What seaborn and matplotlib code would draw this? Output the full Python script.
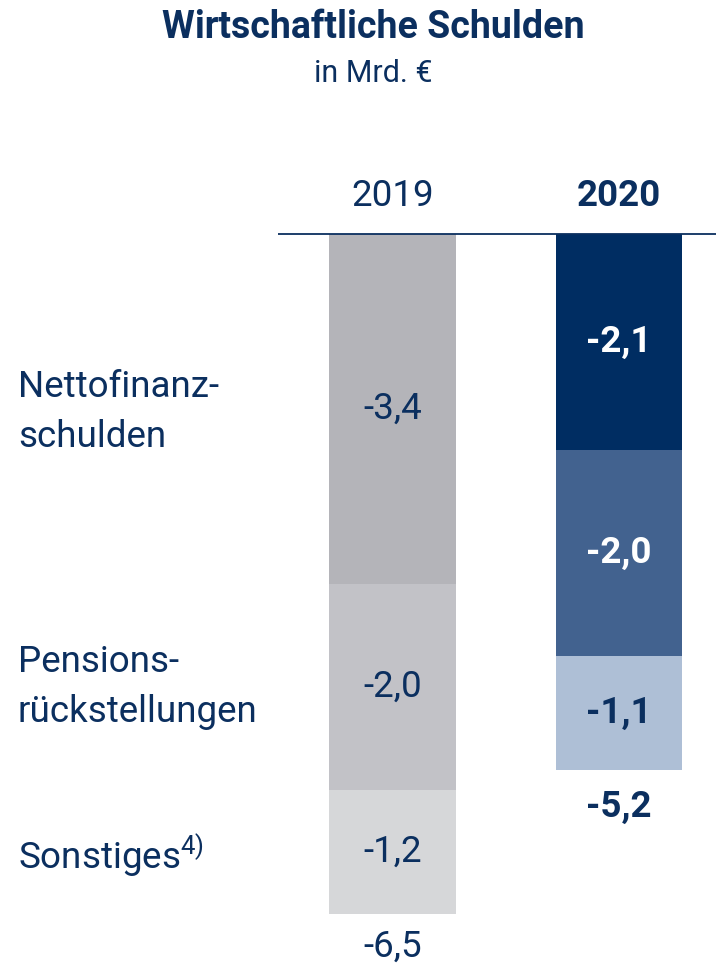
import matplotlib
matplotlib.use("Agg")
import matplotlib.pyplot as plt
import seaborn as sns
import numpy as np
import pandas as pd

years = ["2019", "2020"]
categories = ["Nettofinanz-\nschulden", "Pensions-\nrückstellungen", "Sonstiges$^{4)}$"]
values_2019 = [-3.4, -2.0, -1.2]
values_2020 = [-2.1, -2.0, -1.1]
totals = [-6.5, -5.2]
colors_2019 = ["#b4b4b9", "#c2c2c7", "#d6d7d9"]
colors_2020 = ["#002d62", "#42628f", "#aebfd6"]

NAVY = "#0b2f5f"
FS = 26.5
LW = "normal"

sns.set_theme(style="white")
plt.rcParams["font.family"] = ["Roboto", "DejaVu Sans"]
plt.rcParams["mathtext.fontset"] = "custom"
plt.rcParams["mathtext.rm"] = "Roboto"

fig = plt.figure(figsize=(7.16, 9.65), dpi=100)
ax = fig.add_axes([0, 0, 1, 1])

W, H = 716, 965
x0px, unit_x = 392.5, 226.5
y0px, unit_y = 234, 103
ax.set_xlim(-x0px / unit_x, (W - x0px) / unit_x)
ax.set_ylim(-(H - y0px) / unit_y, y0px / unit_y)

cum19 = np.cumsum(values_2019)
cum20 = np.cumsum(values_2020)
# draw from the deepest cumulative layer up so that segments stack
for i in reversed(range(3)):
    df = pd.DataFrame({"year": years, "val": [cum19[i], cum20[i]]})
    sns.barplot(data=df, x="year", y="val", hue="year",
                palette=[colors_2019[i], colors_2020[i]], width=0.56,
                legend=False, ax=ax, saturation=1, linewidth=0, zorder=2)
ax.set_xlim(-x0px / unit_x, (W - x0px) / unit_x)
ax.set_ylim(-(H - y0px) / unit_y, y0px / unit_y)
ax.axis("off")

# segment labels
fmt = lambda v: f"{v:.1f}".replace(".", ",")
start = 0
for i, v in enumerate(values_2019):
    ax.text(0, start + v / 2, fmt(v), ha="center", va="center",
            fontsize=FS, color=NAVY, zorder=5, fontweight=LW)
    start += v
start = 0
for i, v in enumerate(values_2020):
    c = "white" if i < 2 else NAVY
    ax.text(1, start + v / 2, fmt(v), ha="center", va="center",
            fontsize=FS, color=c, fontweight="bold", zorder=5)
    start += v

# totals
ax.text(0, cum19[-1] - 0.32, fmt(totals[0]), ha="center", va="center",
        fontsize=FS, color=NAVY, fontweight=LW)
ax.text(1, cum20[-1] - 0.36, fmt(totals[1]), ha="center", va="center",
        fontsize=FS, color=NAVY, fontweight="bold")

# headers
ax.text(0, 0.37, years[0], ha="center", va="center", fontsize=FS,
        color=NAVY, fontweight=LW)
ax.text(1, 0.37, years[1], ha="center", va="center", fontsize=FS,
        color=NAVY, fontweight="bold")
ax.plot([(278 - x0px) / unit_x, (W - x0px) / unit_x], [0, 0],
        color=NAVY, lw=1.3, zorder=6, solid_capstyle="butt")

# category labels
label_y_px = [412, 687, 855]
for lab, ypx in zip(categories, label_y_px):
    fig.text(18 / W, 1 - ypx / H, lab, ha="left", va="center",
             fontsize=FS, color=NAVY, linespacing=1.5, fontweight=LW)

# title
fig.text(373 / W, 1 - 28 / H, "Wirtschaftliche Schulden", ha="center",
         va="center", fontsize=27, fontweight="bold", color=NAVY)
fig.text(373 / W, 1 - 73 / H, "in Mrd. €", ha="center", va="center",
         fontsize=22, color=NAVY, fontweight=LW)

fig.savefig("out.png", dpi=100)
